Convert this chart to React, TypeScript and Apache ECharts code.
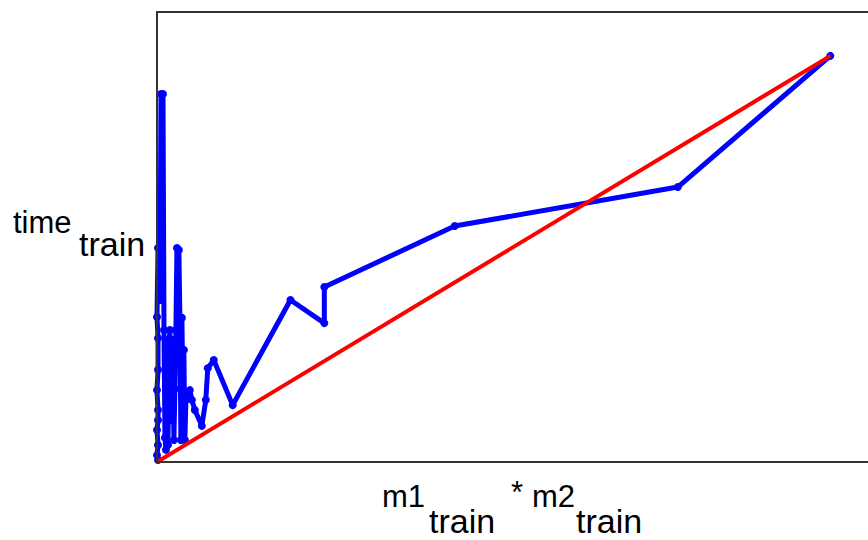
import React, { useEffect, useRef } from "react";
import * as echarts from "echarts";

// measured series (m1_train * m2_train vs time_train), arbitrary units
const xProduct = [
  1.5, 0, 1.5, 0, 1.5, 1.5, 0, 1.5, 1.5, 0, 1.5, 4.4, 5.9, 8.9, 10.4, 11.8, 13.3, 14.8, 16.3, 17.8,
  19.2, 20.7, 22.2, 23.7, 25.1, 26.6, 28.1, 29.6, 32.5, 34, 35.5, 37, 38.5, 39.9, 41.4, 42.9, 45.8,
  48.8, 51.8, 56.2, 66.6, 72.5, 75.4, 84.3, 112.4, 198.2, 248.5, 248.5, 442.2, 773.5, 1000,
];
const timeTrain = [
  5, 17, 42, 79, 103, 128, 177, 227, 305, 357, 527, 399, 906, 906, 325, 60, 30, 300, 42, 290,
  325, 200, 103, 300, 54, 180, 325, 527, 522, 350, 54, 355, 150, 276, 54, 153, 165,
  177, 153, 128, 89, 153, 231, 251, 140, 399, 342, 431, 581, 677, 1000,
];
const refX = [0, 1000];
const refY = [0, 1000];

const xMax = 1056;
const yMax = 1108;

export default function App() {
  const ref = useRef<HTMLDivElement>(null);
  useEffect(() => {
    if (!ref.current) return;
    const chart = echarts.init(ref.current, undefined, { renderer: "svg" });
    const axisLine = { show: true, onZero: false, lineStyle: { color: "#333", width: 2 } };
    const hidden = {
      axisTick: { show: false },
      axisLabel: { show: false },
      splitLine: { show: false },
    };
    const font = '"Liberation Sans", Arial, Helvetica, sans-serif';
    const txt = (text: string, x: number, y: number, size = 31) => ({
      type: "text",
      x,
      y,
      z: 100,
      style: { text, fill: "#000", fontSize: size, fontFamily: font, verticalAlign: "middle", align: "left" },
    });
    chart.setOption({
      animation: false,
      backgroundColor: "#fff",
      grid: { left: 157, top: 12, width: 714, height: 450 },
      xAxis: [
        { type: "value", min: 0, max: xMax, position: "bottom", axisLine, z: 10, ...hidden },
        { type: "value", min: 0, max: xMax, position: "top", axisLine, z: 10, ...hidden },
      ],
      yAxis: [{ type: "value", min: 0, max: yMax, position: "left", axisLine, z: 10, ...hidden }],
      series: [
        {
          type: "line",
          data: xProduct.map((x, i) => [x, timeTrain[i]]),
          lineStyle: { color: "#0000ff", width: 5 },
          itemStyle: { color: "#0000ff" },
          symbol: "circle",
          symbolSize: 8,
          showSymbol: true,
          clip: false,
          z: 2,
        },
        {
          type: "line",
          data: refX.map((x, i) => [x, refY[i]]),
          lineStyle: { color: "#ff0000", width: 4 },
          symbol: "none",
          clip: false,
          z: 3,
        },
      ],
      graphic: [
        txt("time", 13, 222),
        txt("train", 79, 244, 34),
        txt("m1", 382, 496),
        txt("train", 429, 521, 34),
        txt("*", 511, 492),
        txt("m2", 532, 496),
        txt("train", 576, 521, 34),
      ],
    });
    return () => chart.dispose();
  }, []);
  return (
    <div
      ref={ref}
      style={{ position: "absolute", left: 0, top: 0, width: 868, height: 540 }}
    />
  );
}
